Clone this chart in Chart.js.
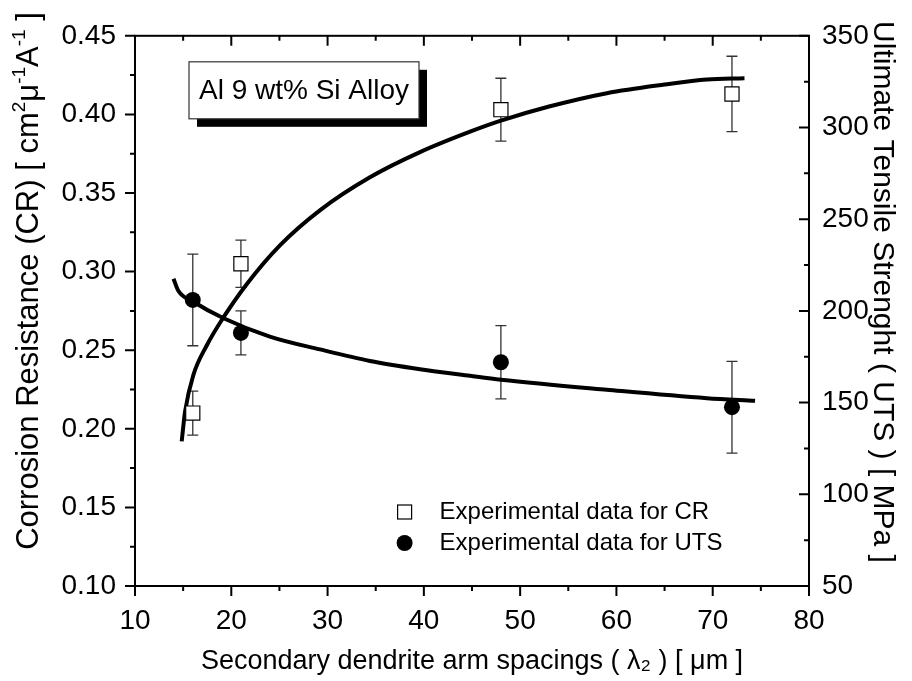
<!DOCTYPE html>
<html>
<head>
<meta charset="utf-8">
<script src="https://cdn.jsdelivr.net/npm/chart.js@4.4.1/dist/chart.umd.min.js"></script>
<style>
  html, body { margin: 0; padding: 0; background: #fff; }
</style>
</head>
<body>
<canvas id="grafico" width="912" height="681"></canvas>
<script>
const lambdaCR = [16, 21, 48, 72];
const valoresCR = [0.210, 0.305, 0.403, 0.413];
const erroCR = [0.014, 0.015, 0.020, 0.024];

const lambdaUTS = [16, 21, 48, 72];
const valoresUTS = [206, 188, 172, 147.5];
const erroUTS = [25, 12, 20, 25];

// Curvas de ajuste
const ajusteCRx = [14.85, 15.2, 16.05, 17.45, 19.2, 21.6, 25.1, 29.2, 34.4, 39.6, 44.8, 48, 53, 59, 65, 69.4, 73.3];
const ajusteCRy = [0.192, 0.211, 0.234, 0.253, 0.271, 0.292, 0.317, 0.339, 0.360, 0.376, 0.389, 0.396, 0.405, 0.4135, 0.419, 0.4222, 0.423];
const ajusteUTSx = [14.0, 14.5, 16.06, 19.2, 24.0, 29.2, 34.4, 39.6, 44.8, 48, 59, 69.4, 74.4];
const ajusteUTSy = [217.5, 211, 205, 196, 186, 179, 172.7, 168.2, 164.6, 162.5, 157, 152.4, 151.0];

const legendas = ["Experimental data for CR", "Experimental data for UTS"];
const rotulo = "Al 9 wt% Si Alloy";
// títulos dos eixos y, com sobrescritos
const tituloEsq = [["Corrosion Resistance (CR) [ cm", "n"], ["2", "sup"], ["μ", "n"], ["-1", "sup"], ["A", "n"], ["-1", "sup"], [" ]", "n"]];
const tituloDir = [["Ultimate Tensile Strenght ( UTS ) [ MPa ]", "n"]];

const fonte = "'Liberation Sans', Arial, Helvetica, sans-serif";

function pontos(xs, ys) {
  return xs.map((x, i) => ({ x: x, y: ys[i] }));
}

function textoRico(ctx, partes, x, y, ang, tam) {
  const fontes = { n: tam + "px " + fonte, sup: Math.round(tam * 0.62) + "px " + fonte };
  let total = 0;
  partes.forEach(([t, tipo]) => { ctx.font = fontes[tipo]; total += ctx.measureText(t).width; });
  ctx.save();
  ctx.translate(x, y);
  ctx.rotate(ang);
  ctx.textAlign = "left";
  ctx.textBaseline = "alphabetic";
  ctx.fillStyle = "#000";
  let px = -total / 2;
  partes.forEach(([t, tipo]) => {
    ctx.font = fontes[tipo];
    const dy = tipo === "sup" ? 0.36 * tam - 0.42 * tam : 0.36 * tam;
    ctx.fillText(t, px, dy);
    px += ctx.measureText(t).width;
  });
  ctx.restore();
}

// desenha marcas dos eixos, moldura, barras de erro, legenda e rótulo
const extras = {
  id: "extras",
  beforeDatasetsDraw(chart) {
    const ctx = chart.ctx;
    chart.data.datasets.forEach((ds, i) => {
      if (!ds.erro) return;
      const meta = chart.getDatasetMeta(i);
      const escala = chart.scales[ds.yAxisID];
      ctx.save();
      ctx.strokeStyle = "#333";
      ctx.lineWidth = 1.3;
      meta.data.forEach((pt, j) => {
        const v = ds.data[j].y, e = ds.erro[j];
        const y1 = escala.getPixelForValue(v + e);
        const y2 = escala.getPixelForValue(v - e);
        ctx.beginPath();
        ctx.moveTo(pt.x, y1); ctx.lineTo(pt.x, y2);
        ctx.moveTo(pt.x - 5.5, y1); ctx.lineTo(pt.x + 5.5, y1);
        ctx.moveTo(pt.x - 5.5, y2); ctx.lineTo(pt.x + 5.5, y2);
        ctx.stroke();
      });
      ctx.restore();
    });
  },
  afterDraw(chart) {
    const ctx = chart.ctx;
    const a = chart.chartArea;
    ctx.save();
    ctx.strokeStyle = "#000";
    ctx.lineWidth = 2;
    ctx.strokeRect(a.left, a.top, a.right - a.left, a.bottom - a.top);

    function marcas(escala, horizontal, base, sentido) {
      const maiores = escala.ticks.map(t => t.value);
      const menores = [];
      for (let k = 0; k < maiores.length - 1; k++) menores.push((maiores[k] + maiores[k + 1]) / 2);
      ctx.beginPath();
      [[maiores, 10], [menores, 5]].forEach(([vals, comp]) => {
        vals.forEach(v => {
          const p = escala.getPixelForValue(v);
          if (horizontal) { ctx.moveTo(p, base); ctx.lineTo(p, base + sentido * comp); }
          else { ctx.moveTo(base, p); ctx.lineTo(base + sentido * comp, p); }
        });
      });
      ctx.stroke();
    }
    marcas(chart.scales.x, true, a.bottom, 1);
    marcas(chart.scales.x, true, a.top, 1);
    marcas(chart.scales.y, false, a.left, -1);
    marcas(chart.scales.y2, false, a.right, -1);

    // legenda
    const lx = a.left + 0.40 * (a.right - a.left);
    const ly1 = a.bottom - 74, ly2 = a.bottom - 43;
    ctx.lineWidth = 1.2;
    ctx.fillStyle = "#fff";
    ctx.fillRect(lx - 7, ly1 - 7, 14, 14);
    ctx.strokeRect(lx - 7, ly1 - 7, 14, 14);
    ctx.fillStyle = "#000";
    ctx.beginPath();
    ctx.arc(lx, ly2, 8, 0, Math.PI * 2);
    ctx.fill();
    ctx.font = "24px " + fonte;
    ctx.textBaseline = "middle";
    ctx.textAlign = "left";
    ctx.fillText(legendas[0], lx + 35, ly1);
    ctx.fillText(legendas[1], lx + 35, ly2);

    // rótulo com sombra
    const bx = a.left + 54, by = a.top + 26, bw = 230, bh = 57;
    ctx.fillStyle = "#000";
    ctx.fillRect(bx + 8, by + 8, bw, bh);
    ctx.fillStyle = "#fff";
    ctx.fillRect(bx, by, bw, bh);
    ctx.strokeStyle = "#333";
    ctx.lineWidth = 1.2;
    ctx.strokeRect(bx, by, bw, bh);
    ctx.fillStyle = "#000";
    ctx.font = "28px " + fonte;
    ctx.textAlign = "center";
    ctx.fillText(rotulo, bx + bw / 2, by + bh / 2 + 1);

    // títulos dos eixos y
    textoRico(ctx, tituloEsq, 27, 281, -Math.PI / 2, 31);
    textoRico(ctx, tituloDir, 885, 292, Math.PI / 2, 30);
    ctx.restore();
  }
};

const ctx = document.getElementById("grafico").getContext("2d");
new Chart(ctx, {
  type: "scatter",
  data: {
    datasets: [
      {
        label: legendas[0], data: pontos(lambdaCR, valoresCR), yAxisID: "y", erro: erroCR,
        pointStyle: "rect", pointRadius: 10, backgroundColor: "#fff", borderColor: "#000", borderWidth: 1.2
      },
      {
        label: legendas[1], data: pontos(lambdaUTS, valoresUTS), yAxisID: "y2", erro: erroUTS,
        pointStyle: "circle", pointRadius: 8, backgroundColor: "#000", borderColor: "#000", borderWidth: 0
      },
      {
        label: "CR fit", data: pontos(ajusteCRx, ajusteCRy), yAxisID: "y", showLine: true,
        pointRadius: 0, borderColor: "#000", borderWidth: 4, cubicInterpolationMode: "monotone", fill: false
      },
      {
        label: "UTS fit", data: pontos(ajusteUTSx, ajusteUTSy), yAxisID: "y2", showLine: true,
        pointRadius: 0, borderColor: "#000", borderWidth: 4, cubicInterpolationMode: "monotone", fill: false
      }
    ]
  },
  options: {
    responsive: false,
    animation: false,
    layout: { padding: { top: 29, left: 0, right: 0, bottom: 0 } },
    plugins: { legend: { display: false }, tooltip: { enabled: false } },
    scales: {
      x: {
        type: "linear", position: "bottom", min: 10, max: 80,
        ticks: { stepSize: 10, padding: 18, color: "#000", font: { family: fonte, size: 28 } },
        grid: { display: false, drawTicks: false },
        border: { display: false },
        title: {
          display: true, text: "Secondary dendrite arm spacings ( λ₂ ) [ μm ]", color: "#000",
          font: { family: fonte, size: 27 }, padding: { top: 0, bottom: 3 }
        },
        afterFit: s => { s.height = 95; }
      },
      y: {
        type: "linear", position: "left", min: 0.10, max: 0.45,
        ticks: { stepSize: 0.05, padding: 19, color: "#000", font: { family: fonte, size: 28 }, callback: v => v.toFixed(2) },
        grid: { display: false, drawTicks: false },
        border: { display: false },
        title: { display: false },
        afterFit: s => { s.width = 135; }
      },
      y2: {
        type: "linear", position: "right", min: 50, max: 350,
        ticks: { stepSize: 50, padding: 13, color: "#000", font: { family: fonte, size: 28 } },
        grid: { display: false, drawTicks: false },
        border: { display: false },
        title: { display: false },
        afterFit: s => { s.width = 103; }
      }
    }
  },
  plugins: [extras]
});
</script>
</body>
</html>
